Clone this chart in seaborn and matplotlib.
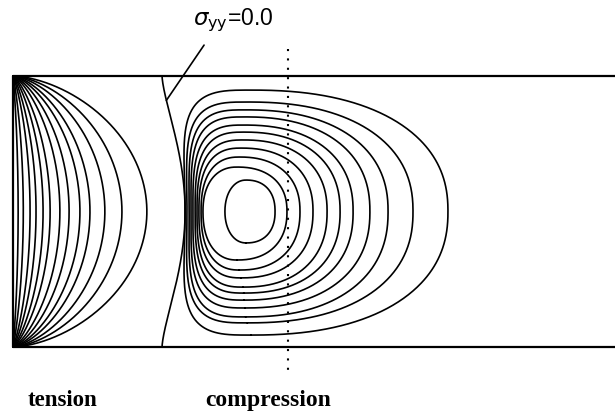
import numpy as np
import pandas as pd
import matplotlib
matplotlib.use("Agg")
import matplotlib.pyplot as plt
import seaborn as sns

# plate coordinates: x along the plate, y across it (plate width = 1, y in -0.5..0.5)
# tension contours: how far each arc reaches into the plate at mid height
tension_reach = [0.019, 0.038, 0.063, 0.085, 0.111, 0.137, 0.173,
                 0.207, 0.247, 0.284, 0.339, 0.402, 0.494]

# compression contours, innermost first
comp_left = [0.782, 0.701, 0.694, 0.686, 0.679, 0.672, 0.664, 0.657, 0.650, 0.642, 0.635]
comp_right = [0.967, 1.011, 1.059, 1.107, 1.159, 1.207, 1.255, 1.317, 1.384, 1.476, 1.605]
comp_top = [0.116, 0.164, 0.201, 0.234, 0.264, 0.293, 0.319, 0.349, 0.375, 0.404, 0.448]
comp_bottom = [-0.116, -0.179, -0.216, -0.245, -0.279, -0.301, -0.327, -0.356,
               -0.389, -0.411, -0.456]

# sigma_yy = 0 line: position at the plate edges and at mid height
zero_edge = 0.550
zero_mid = 0.635

section_x = 1.015
label_zero = r"$\sigma_{\mathrm{yy}}$=0.0"
label_tension = "tension"
label_compression = "compression"


def tension_arc(reach, p):
    t = np.linspace(-1, 1, 401)
    return reach * (1 - t ** 2) ** p, 0.5 * t


def zero_line(t):
    return zero_edge + (zero_mid - zero_edge) * (1 - t ** 2) ** 1.5


def comp_loop(xl, xr, top, bot, frac, nl, nr, bow):
    x0 = xl + frac * (xr - xl)
    th = np.linspace(-np.pi / 2, np.pi / 2, 300)
    c, s = np.cos(th), np.sin(th)
    x_r = x0 + (xr - x0) * np.abs(c) ** (2 / nr)
    y_r = np.sign(s) * np.abs(s) ** (2 / nr)
    th = np.linspace(np.pi / 2, 3 * np.pi / 2, 300)
    c, s = np.cos(th), np.sin(th)
    x_l = x0 - (x0 - xl) * np.abs(c) ** (2 / nl)
    y_l = np.sign(s) * np.abs(s) ** (2 / nl)
    # pull the upper and lower parts of the left side outwards (follows the zero line)
    w = np.clip((x0 - x_l) / (x0 - xl), 0, 1) ** 1.5
    x_l = x_l - bow * y_l ** 2 * w
    x = np.concatenate([x_r, x_l, x_r[:1]])
    y = np.concatenate([y_r, y_l, y_r[:1]])
    y = np.where(y > 0, y * top, y * abs(bot))
    return x, y


sns.set_theme(style="white")
plt.rcParams["text.color"] = "black"

frames = []
n_t = len(tension_reach)
for i, (r, p) in enumerate(zip(tension_reach, np.linspace(0.9, 0.6, n_t))):
    x, y = tension_arc(r, p)
    frames.append(pd.DataFrame({"x": x, "y": y, "curve": f"t{i}"}))

n_c = len(comp_left)
fracs = np.linspace(0.42, 0.25, n_c)
nls = np.linspace(2.1, 3.6, n_c)
for i in range(n_c):
    bow = 0.04 * (comp_top[i] / comp_top[-1]) ** 4
    x, y = comp_loop(comp_left[i], comp_right[i], comp_top[i], comp_bottom[i],
                     fracs[i], nls[i], 2.3, bow)
    frames.append(pd.DataFrame({"x": x, "y": y, "curve": f"c{i}"}))

tz = np.linspace(-1, 1, 301)
frames.append(pd.DataFrame({"x": zero_line(tz), "y": 0.5 * tz, "curve": "zero"}))
contours = pd.concat(frames, ignore_index=True)

plate = pd.DataFrame({
    "x": [2.5, 0.0, 0.0, 2.5],
    "y": [0.5, 0.5, -0.5, -0.5],
})

fig = plt.figure(figsize=(6.15, 4.15), dpi=100)
ax = fig.add_axes([0, 0, 1, 1])

sns.lineplot(data=contours, x="x", y="y", units="curve", estimator=None, sort=False,
             color="black", linewidth=1.2, legend=False, ax=ax)
sns.lineplot(data=plate, x="x", y="y", estimator=None, sort=False,
             color="black", linewidth=1.6, ax=ax)
sns.lineplot(x=[section_x, section_x], y=[0.6, -0.6], estimator=None, sort=False,
             color="black", linewidth=1.5, linestyle=(0, (1, 3.5)), ax=ax)

# leader from the label to the zero line
y_end = 0.41
ax.annotate("", xy=(zero_line(2 * y_end), y_end), xytext=(0.705, 0.614),
            arrowprops=dict(arrowstyle="-", color="black", lw=1.2, shrinkA=0, shrinkB=0))
ax.text(0.664, 0.688, label_zero, fontsize=16.5, family="Liberation Sans",
        va="baseline", color="black")
ax.text(0.055, -0.718, label_tension, fontsize=16.5, family="Liberation Serif",
        weight="bold", va="baseline", color="black")
ax.text(0.708, -0.718, label_compression, fontsize=17, family="Liberation Serif",
        weight="bold", va="baseline", color="black")

ax.set_xlim(-13 / 271, 602 / 271)
ax.set_ylim(-203.5 / 271, 211.5 / 271)
ax.set_axis_off()

fig.savefig("out.png", dpi=100)
